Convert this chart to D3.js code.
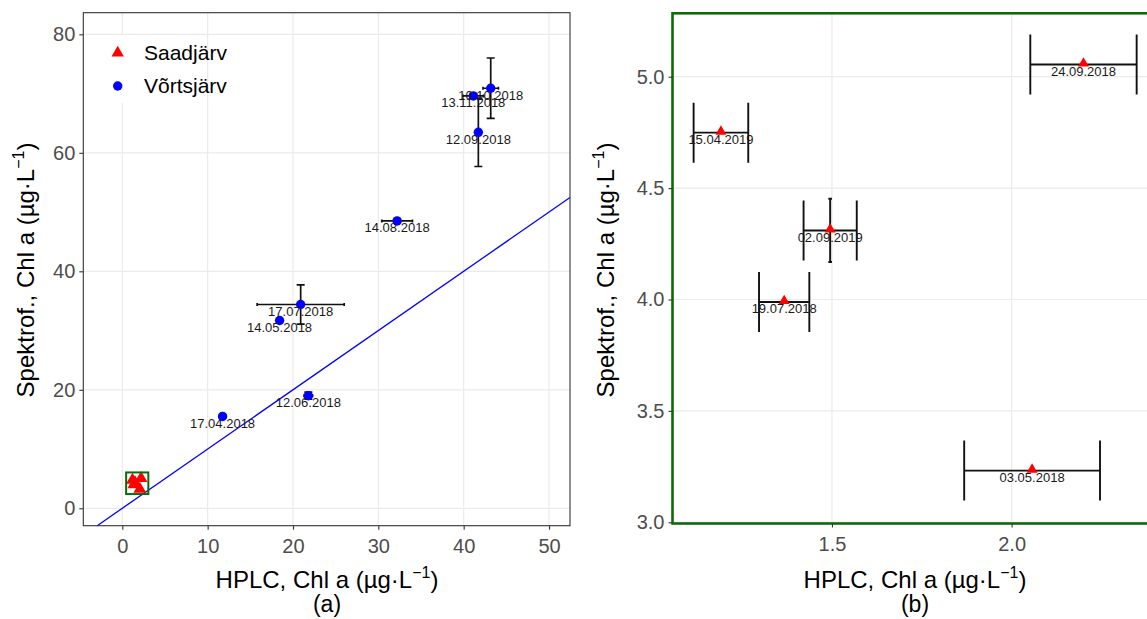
<!DOCTYPE html>
<html><head><meta charset="utf-8">
<script src="https://cdn.jsdelivr.net/npm/d3@7"></script>
<style>
body{margin:0;background:#fff}
svg{display:block}
text{font-family:Arial,"Liberation Sans",sans-serif}
</style>
</head><body>
<svg id="c" width="1147" height="619"></svg>
<script>
// ---- Data: Võrtsjärv (panel a) ----
const vDates = ["17.04.2018","14.05.2018","12.06.2018","17.07.2018","14.08.2018","12.09.2018","10.10.2018","13.11.2018"];
const vHplc  = [11.75, 18.43, 21.8, 20.9, 32.2, 41.72, 43.17, 41.13];
const vSpek  = [15.5, 31.7, 19.0, 34.4, 48.5, 63.46, 70.9, 69.6];
const vHplcErr = [0, 0, 0.5, 5.1, 1.8, 0.3, 0.9, 1.2];
const vSpekErr = [0, 0, 0.6, 3.3, 0.3, 5.77, 5.1, 0.3];

// ---- Data: Saadjärv (panel a + panel b) ----
const sDates = ["03.05.2018","19.07.2018","24.09.2018","15.04.2019","02.09.2019"];
const sHplc  = [2.057, 1.367, 2.200, 1.191, 1.495];
const sSpek  = [3.232, 3.989, 5.055, 4.749, 4.310];
const sHplcErr = [0.189, 0.070, 0.148, 0.076, 0.074];
const sSpekErr = [0, 0, 0, 0, 0.142];

// ---- Axis ticks ----
const aXTicks = [0, 10, 20, 30, 40, 50];
const aYTicks = [0, 20, 40, 60, 80];
const bXTicks = [1.5, 2.0];
const bYTicks = [3.0, 3.5, 4.0, 4.5, 5.0];
const legendNames = ["Saadjärv", "Võrtsjärv"];
const zoomBox = {x0: 0.45, x1: 3.05, y0: 2.4, y1: 6.05};

const svg = d3.select("#c");
const RED = "#ff0000", BLUE = "#0000ff", GREEN = "#0b6b0b";

// scales
const xA = d3.scaleLinear().domain([-4.57, 52.46]).range([83.3, 570]);
const yA = d3.scaleLinear().domain([-2.94, 83.65]).range([525.7, 12.7]);
const xB = d3.scaleLinear().domain([1.0562, 2.406]).range([672.5, 1157.5]);
const yB = d3.scaleLinear().domain([2.9946, 5.2846]).range([523.5, 13.3]);

const vData = vDates.map((d,i)=>({d, x:vHplc[i], y:vSpek[i], ex:vHplcErr[i], ey:vSpekErr[i]}));
const sData = sDates.map((d,i)=>({d, x:sHplc[i], y:sSpek[i], ex:sHplcErr[i], ey:sSpekErr[i]}));

function grid(g, x, y, xt, yt){
  const [x0,x1] = x.range(), [y1,y0] = y.range();
  g.selectAll(".gx").data(xt).join("line").attr("x1",d=>x(d)).attr("x2",d=>x(d))
    .attr("y1",y0).attr("y2",y1).attr("stroke","#ebebeb").attr("stroke-width",1.2);
  g.selectAll(".gy").data(yt).join("line").attr("class","gy").attr("y1",d=>y(d)).attr("y2",d=>y(d))
    .attr("x1",x0).attr("x2",x1).attr("stroke","#ebebeb").attr("stroke-width",1.2);
}
function axes(g, x, y, xt, yt, fmt){
  const [y1] = y.range(), [x0] = x.range();
  const ax = g.append("g").attr("transform",`translate(0,${y1})`)
    .call(d3.axisBottom(x).tickValues(xt).tickSize(4).tickPadding(4).tickFormat(fmt));
  const ay = g.append("g").attr("transform",`translate(${x0},0)`)
    .call(d3.axisLeft(y).tickValues(yt).tickSize(4).tickPadding(4).tickFormat(fmt));
  [ax,ay].forEach(a=>{
    a.select(".domain").remove();
    a.selectAll("line").attr("stroke","#333").attr("stroke-width",1.1);
    a.selectAll("text").attr("fill","#4d4d4d").style("font-size","20px")
      .style("font-family","Arial, 'Liberation Sans', sans-serif");
  });
  ax.selectAll("text").attr("dy","0.95em");
}
function errBars(g, x, y, data, capH, capV, sw){
  const h = data.filter(d=>d.ex>0), v = data.filter(d=>d.ey>0);
  g.selectAll(".eh").data(h).join("path").attr("fill","none").attr("stroke","#111").attr("stroke-width",sw)
    .attr("d",d=>`M${x(d.x-d.ex)},${y(d.y)-capH}V${y(d.y)+capH}M${x(d.x-d.ex)},${y(d.y)}H${x(d.x+d.ex)}M${x(d.x+d.ex)},${y(d.y)-capH}V${y(d.y)+capH}`);
  g.selectAll(".ev").data(v).join("path").attr("fill","none").attr("stroke","#111").attr("stroke-width",sw)
    .attr("d",d=>`M${x(d.x)-capV},${y(d.y+d.ey)}H${x(d.x)+capV}M${x(d.x)},${y(d.y+d.ey)}V${y(d.y-d.ey)}M${x(d.x)-capV},${y(d.y-d.ey)}H${x(d.x)+capV}`);
}
function labels(g, x, y, data){
  g.selectAll(".lb").data(data).join("text").attr("x",d=>x(d.x)).attr("y",d=>y(d.y)+11.5)
    .attr("text-anchor","middle").attr("fill","#1a1a1a").style("font-size","13px").text(d=>d.d);
}
function title(g, x, y, rot, anchorText){
  const t = g.append("text").attr("text-anchor","middle").attr("fill","#000").style("font-size","24px")
    .attr("transform",`translate(${x},${y}) rotate(${rot})`);
  t.append("tspan").text(anchorText + " (µg·L");
  t.append("tspan").attr("dy",-10).style("font-size","16px").text("−1");
  t.append("tspan").attr("dy",10).text(")");
}
const tri = d3.symbol().type(d3.symbolTriangle);
const circ = d3.symbol().type(d3.symbolCircle).size(70);

// ================= Panel (a) =================
const gA = svg.append("g");
grid(gA, xA, yA, aXTicks, aYTicks);
// legend key backgrounds
gA.append("rect").attr("x",100).attr("y",35).attr("width",34).attr("height",68).attr("fill","#fff");
// 1:1 line
const lo = Math.max(xA.domain()[0], yA.domain()[0]), hi = Math.min(xA.domain()[1], yA.domain()[1]);
gA.append("line").attr("x1",xA(lo)).attr("y1",yA(lo)).attr("x2",xA(hi)).attr("y2",yA(hi))
  .attr("stroke",BLUE).attr("stroke-width",1.3);
errBars(gA, xA, yA, vData, 1.5, 4, 1.7);
gA.selectAll(".vp").data(vData).join("path").attr("d",circ)
  .attr("transform",d=>`translate(${xA(d.x)},${yA(d.y)})`).attr("fill",BLUE);
gA.selectAll(".sp").data(sData).join("path").attr("d",tri.size(72))
  .attr("transform",d=>`translate(${xA(d.x)},${yA(d.y)})`).attr("fill",RED);
gA.append("rect").attr("x",xA(zoomBox.x0)).attr("y",yA(zoomBox.y1))
  .attr("width",xA(zoomBox.x1)-xA(zoomBox.x0)).attr("height",yA(zoomBox.y0)-yA(zoomBox.y1))
  .attr("fill","none").attr("stroke",GREEN).attr("stroke-width",2);
labels(gA, xA, yA, vData);
gA.append("rect").attr("x",83.3).attr("y",12.7).attr("width",570-83.3).attr("height",525.7-12.7)
  .attr("fill","none").attr("stroke","#333").attr("stroke-width",1.1);
axes(gA, xA, yA, aXTicks, aYTicks, d3.format("d"));
// legend
const leg = gA.append("g");
leg.append("path").attr("d",d3.symbol().type(d3.symbolTriangle).size(66)).attr("transform","translate(117.7,53)").attr("fill",RED);
leg.append("path").attr("d",d3.symbol().type(d3.symbolCircle).size(70)).attr("transform","translate(117.7,86)").attr("fill",BLUE);
leg.selectAll(".lt").data(legendNames).join("text").attr("x",144).attr("y",(d,i)=>60+i*33)
  .style("font-size","21px").attr("fill","#000").text(d=>d);
title(gA, 327, 588, 0, "HPLC, Chl a");
gA.append("text").attr("x",327).attr("y",612).attr("text-anchor","middle").style("font-size","23px").text("(a)");
title(gA, 34, 270, -90, "Spektrof., Chl a");

// ================= Panel (b) =================
const gB = svg.append("g");
grid(gB, xB, yB, bXTicks, bYTicks);
errBars(gB, xB, yB, sData, 30, 1.8, 1.9);
gB.selectAll(".sp").data(sData).join("path").attr("d",d3.symbol().type(d3.symbolTriangle).size(52))
  .attr("transform",d=>`translate(${xB(d.x)},${yB(d.y)-1})`).attr("fill",RED);
labels(gB, xB, yB, sData);
gB.append("rect").attr("x",672.5).attr("y",13.3).attr("width",1157.5-672.5).attr("height",523.5-13.3)
  .attr("fill","none").attr("stroke",GREEN).attr("stroke-width",2.6);
axes(gB, xB, yB, bXTicks, bYTicks, d3.format(".1f"));
title(gB, 915, 588, 0, "HPLC, Chl a");
gB.append("text").attr("x",915).attr("y",612).attr("text-anchor","middle").style("font-size","23px").text("(b)");
title(gB, 614, 270, -90, "Spektrof., Chl a");
</script>
</body></html>
